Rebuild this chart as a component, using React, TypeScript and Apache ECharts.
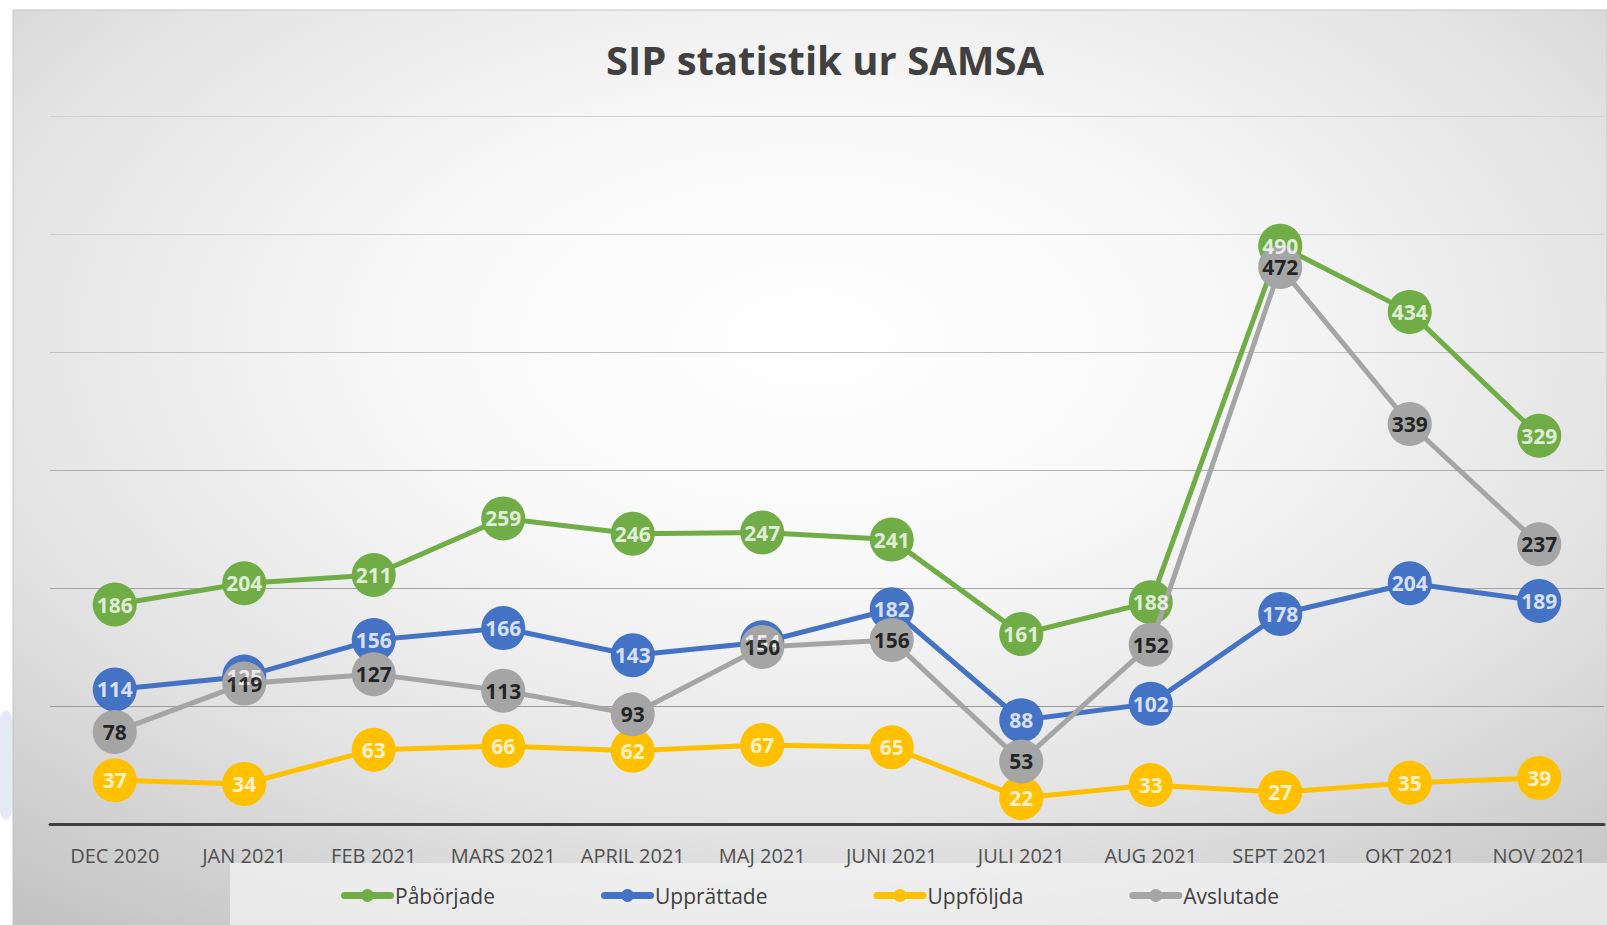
import React, { useEffect, useRef } from "react";
import * as echarts from "echarts";

const categories = [
  "DEC 2020", "JAN 2021", "FEB 2021", "MARS 2021", "APRIL 2021", "MAJ 2021",
  "JUNI 2021", "JULI 2021", "AUG 2021", "SEPT 2021", "OKT 2021", "NOV 2021",
];
const paborjade = [186, 204, 211, 259, 246, 247, 241, 161, 188, 490, 434, 329];
const upprattade = [114, 125, 156, 166, 143, 154, 182, 88, 102, 178, 204, 189];
const uppfoljda = [37, 34, 63, 66, 62, 67, 65, 22, 33, 27, 35, 39];
const avslutade = [78, 119, 127, 113, 93, 150, 156, 53, 152, 472, 339, 237];
const seriesNames = ["Påbörjade", "Upprättade", "Uppföljda", "Avslutade"];

const FONT = "'Open Sans', sans-serif";

const LEGEND_ICON =
  "path://M3.5,3.5 L49.5,3.5 A3.5,3.5 0 0 1 49.5,10.5 L3.5,10.5 A3.5,3.5 0 0 1 3.5,3.5 Z " +
  "M26.5,0.5 A6.5,6.5 0 0 1 26.5,13.5 A6.5,6.5 0 0 1 26.5,0.5 Z M0,7 L0,7 M53,7 L53,7 M26.5,0 L26.5,0 M26.5,14 L26.5,14";

function mkLine(name: string, data: number[], color: string, z: number) {
  return {
    name,
    type: "line",
    data,
    z,
    symbol: "circle",
    symbolSize: 44,
    showAllSymbol: true,
    lineStyle: { color, width: 5 },
    itemStyle: { color },
    label: { show: false },
    emphasis: { disabled: true },
  };
}

function mkLabels(name: string, data: number[], labelColor: string, z: number) {
  return {
    name,
    type: "scatter",
    data,
    z,
    symbol: "circle",
    symbolSize: 1,
    itemStyle: { color: "rgba(0,0,0,0)" },
    label: {
      show: true,
      position: "inside",
      color: labelColor,
      fontFamily: FONT,
      fontWeight: "bold",
      fontSize: 21,
    },
    emphasis: { disabled: true },
    silent: true,
  };
}

export default function App() {
  const ref = useRef<HTMLDivElement>(null);
  useEffect(() => {
    const chart = echarts.init(ref.current!, undefined, { renderer: "svg" });
    chart.setOption({
      animation: false,
      graphic: [
        {
          type: "ellipse",
          z: -10,
          shape: { cx: 6, cy: 765, rx: 12, ry: 55 },
          style: { fill: "#e4e9f5" },
          silent: true,
        },
        {
          type: "rect",
          z: -9,
          shape: { x: 13, y: 10, width: 1594, height: 915 },
          style: {
            fill: {
              type: "radial",
              x: 0.5,
              y: 0.36,
              r: 0.8,
              colorStops: [
                { offset: 0, color: "#ffffff" },
                { offset: 0.32, color: "#f8f8f8" },
                { offset: 0.68, color: "#e2e2e2" },
                { offset: 1, color: "#c3c3c3" },
              ],
            },
            stroke: "#c4c4c4",
            lineWidth: 1,
          },
          silent: true,
        },
        {
          type: "rect",
          z: -8,
          shape: { x: 230, y: 863, width: 1377, height: 62 },
          style: { fill: "rgba(245,245,245,0.7)" },
          silent: true,
        },
      ],
      title: {
        text: "SIP statistik ur SAMSA",
        left: 820,
        textAlign: "center",
        top: 34,
        textStyle: {
          fontFamily: FONT,
          fontWeight: "bold",
          fontSize: 40,
          color: "#404040",
        },
      },
      grid: { left: 50, right: 3, top: 116, bottom: 101, containLabel: false },
      xAxis: {
        type: "category",
        data: categories,
        boundaryGap: true,
        axisTick: { show: false },
        axisLine: { lineStyle: { color: "#404040", width: 3 } },
        axisLabel: {
          color: "#505050",
          fontFamily: FONT,
          fontSize: 20,
          margin: 21,
          interval: 0,
        },
      },
      yAxis: {
        type: "value",
        min: 0,
        max: 600,
        interval: 100,
        axisLabel: { show: false },
        axisLine: { show: false },
        axisTick: { show: false },
        splitLine: {
          lineStyle: {
            color: ["#999999", "#9a9a9a", "#a3a3a3", "#b0b0b0", "#c0c0c0", "#cfcfcf", "#d0d0d0"],
            width: 1,
          },
        },
      },
      legend: {
        bottom: 14,
        left: 336,
        itemGap: 106,
        itemWidth: 53,
        itemHeight: 14,
        textStyle: { fontFamily: FONT, fontSize: 21, color: "#404040", padding: [0, 0, 0, -4] },
        data: seriesNames.map((n) => ({ name: n, icon: LEGEND_ICON })),
      },
      series: [
        mkLine(seriesNames[0], paborjade, "#70AD47", 2),
        mkLine(seriesNames[1], upprattade, "#4472C4", 3),
        mkLine(seriesNames[2], uppfoljda, "#FFC000", 4),
        mkLine(seriesNames[3], avslutade, "#A5A5A5", 5),
        mkLabels(seriesNames[0], paborjade, "#ffffff", 10),
        mkLabels(seriesNames[1], upprattade, "#ffffff", 11),
        mkLabels(seriesNames[2], uppfoljda, "#ffffff", 12),
        mkLabels(seriesNames[3], avslutade, "#000000", 13),
      ],
    });
    return () => chart.dispose();
  }, []);
  return (
    <div
      ref={ref}
      style={{ position: "fixed", left: 0, top: 0, width: 1607, height: 925, background: "#ffffff" }}
    />
  );
}
